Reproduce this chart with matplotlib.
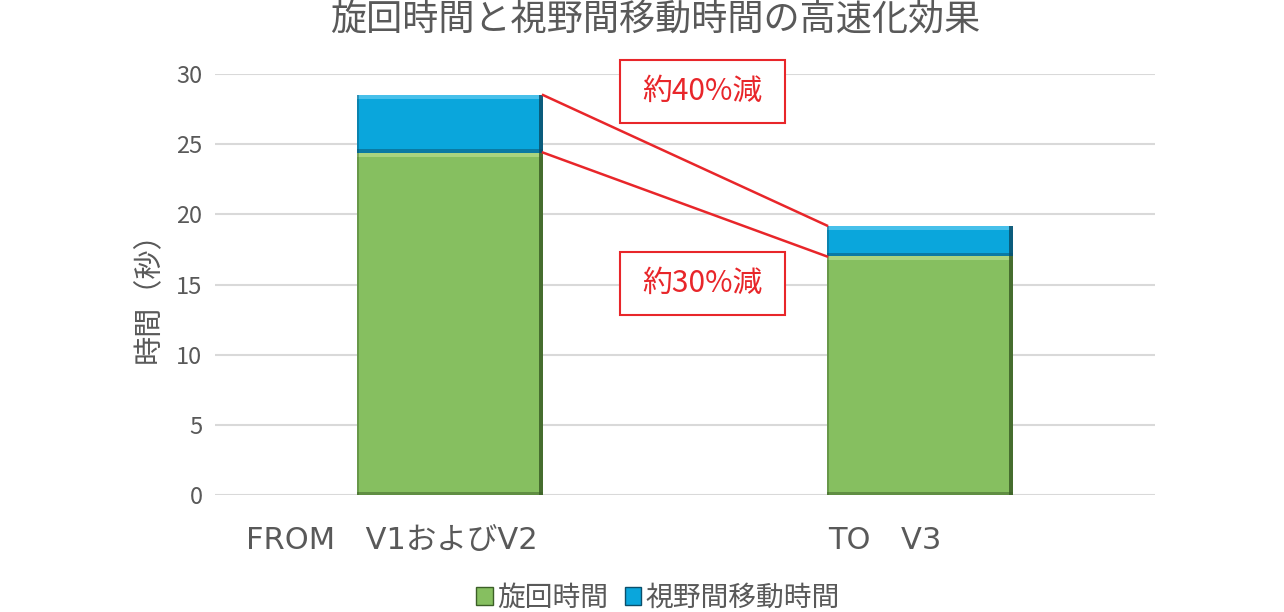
import matplotlib
matplotlib.use("Agg")
import matplotlib.pyplot as plt
from matplotlib.patches import Rectangle, Patch
from matplotlib.transforms import ScaledTranslation

plt.rcParams['font.family'] = ['Noto Sans CJK JP', 'DejaVu Sans']

# ---- data ----
categories = ['FROM\u3000V1およびV2', 'TO\u3000V3']
turn_time = [24.4, 17.0]          # 旋回時間
move_time = [4.1, 2.2]            # 視野間移動時間
series_names = ['旋回時間', '視野間移動時間']
reduction_labels = ['約40%減', '約30%減']
yticks = [0, 5, 10, 15, 20, 25, 30]
title = '旋回時間と視野間移動時間の高速化効果'
ylabel = '時間（秒）'

GRAY = '#595959'
GREEN = '#86bf60'
BLUE = '#0aa6dc'
RED = '#e8262a'

fig = plt.figure(figsize=(12.84, 6.12), dpi=100)
ax = fig.add_axes([215/1284, 1-495/612, 940/1284, (495-74)/612])

px_x = 470.0
px_y = 421.0 / 30

x = list(range(len(categories)))
w = 0.396
b1 = ax.bar(x, turn_time, width=w, color=GREEN, edgecolor='none', zorder=3)
b2 = ax.bar(x, move_time, bottom=turn_time, width=w, color=BLUE, edgecolor='none', zorder=3)

# bevel decoration derived from each bar's geometry
def bevel(bars, light, dark):
    for p in bars:
        bx, by, bw, bh = p.get_x(), p.get_y(), p.get_width(), p.get_height()
        sx = 4 / px_x
        sy = 4 / px_y
        ax.add_patch(Rectangle((bx, by + bh - sy), bw, sy, facecolor=light, edgecolor='none', zorder=3.1))
        ax.add_patch(Rectangle((bx, by), bw, sy * 0.8, facecolor=dark, edgecolor='none', alpha=0.5, zorder=3.1))
        ax.add_patch(Rectangle((bx + bw - sx, by), sx, bh, facecolor=dark, edgecolor='none', alpha=0.85, zorder=3.2))
        ax.add_patch(Rectangle((bx, by), sx * 0.4, bh, facecolor=dark, edgecolor='none', alpha=0.4, zorder=3.2))

bevel(b1, '#a9d47f', '#3b5f27')
bevel(b2, '#47c0ea', '#0b4f6b')

ax.set_xlim(-0.5, 1.5)
ax.set_ylim(0, 30)
ax.set_yticks(yticks)
ax.yaxis.grid(True, color='#d9d9d9', linewidth=1.5, zorder=0)
ax.set_axisbelow(True)
for s in ax.spines.values():
    s.set_visible(False)
ax.tick_params(axis='both', length=0, colors=GRAY)
ax.tick_params(axis='y', pad=9, labelsize=17)
ax.tick_params(axis='x', pad=22)
ax.set_xticks(x)
ax.set_xticklabels(categories, fontsize=22, color=GRAY, family=['DejaVu Sans', 'Noto Sans CJK JP'])
offsets = [-58, -35]
for lab, off in zip(ax.get_xticklabels(), offsets):
    lab.set_transform(lab.get_transform() + ScaledTranslation(off/100, 0, fig.dpi_scale_trans))

ax.set_ylabel(ylabel, fontsize=21, color=GRAY)
ax.yaxis.set_label_coords((164 - 215) / 940, (495 - 290) / 421)

fig.text(655/1284, 1-20/612, title, ha='center', va='center', fontsize=26, color=GRAY)

# connecting lines
tops = [t + m for t, m in zip(turn_time, move_time)]
ax.plot([x[0] + w/2, x[1] - w/2], [tops[0], tops[1]], color=RED, lw=1.8, zorder=4)
ax.plot([x[0] + w/2, x[1] - w/2], [turn_time[0], turn_time[1]], color=RED, lw=1.8, zorder=4)

# annotation boxes
box_w = 165 / px_x
box_h = 63 / px_y
cx = -0.5 + (702.5 - 215) / px_x
for lab, cy in zip(reduction_labels, [(495 - 91.5) / px_y, (495 - 283) / px_y]):
    ax.add_patch(Rectangle((cx - box_w/2, cy - box_h/2), box_w, box_h, clip_on=False,
                           facecolor='white', edgecolor=RED, linewidth=1.5, zorder=5))
    ax.text(cx, cy, lab, ha='center', va='center', fontsize=21.5, color=RED, zorder=6, clip_on=False)

handles = [Patch(facecolor=GREEN, edgecolor='#3b5f27'), Patch(facecolor=BLUE, edgecolor='#0b4f6b')]
fig.legend(handles, series_names, loc='center', bbox_to_anchor=(658/1284, 1-598/612),
           ncol=2, frameon=False, fontsize=20, labelcolor=GRAY,
           handlelength=0.6, handleheight=0.6, handletextpad=0.15, columnspacing=0.6)

fig.savefig('out.png', dpi=100)
